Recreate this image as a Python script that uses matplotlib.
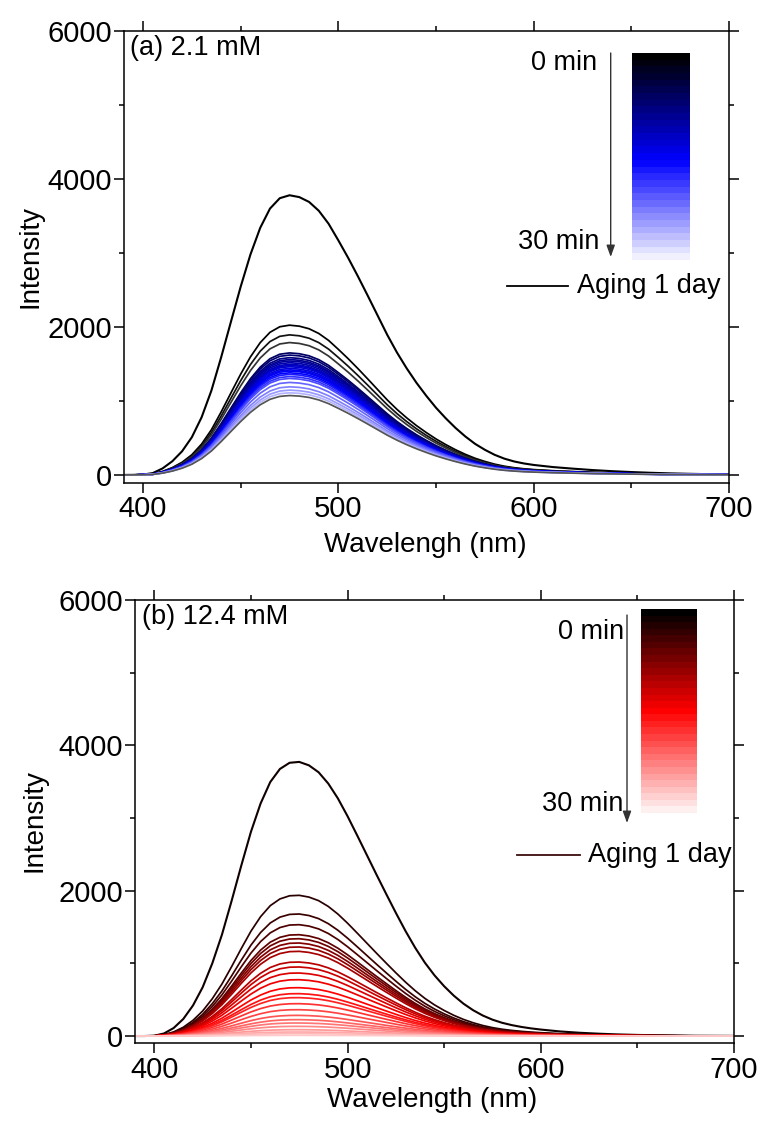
import numpy as np
import matplotlib
matplotlib.use("Agg")
import matplotlib.pyplot as plt
from matplotlib.colors import LinearSegmentedColormap
from matplotlib.lines import Line2D
from matplotlib.patches import FancyArrowPatch
from matplotlib.ticker import MultipleLocator

plt.rcParams['font.family'] = ['Liberation Sans', 'DejaVu Sans']

W, H = 760, 1121
TXT = 19.5

# wavelength grid the spectra were read on (nm)
wl = [390, 395, 400, 405, 410, 415, 420, 425, 430, 435, 440, 445, 450, 455,
      460, 465, 470, 475, 480, 485, 490, 495, 500, 505, 510, 515, 520, 525,
      530, 535, 540, 545, 550, 555, 560, 565, 570, 575, 580, 585, 590, 595,
      600, 610, 620, 630, 640, 650, 660, 670, 680, 690, 700]

# "Aging 1 day" spectra
aged_a = [0, 1, 5, 25, 88, 185, 320, 510, 780, 1140, 1590, 2070, 2545, 2980,
          3340, 3600, 3740, 3780, 3755, 3690, 3570, 3395, 3170, 2935, 2685, 2425,
          2160, 1895, 1655, 1440, 1245, 1070, 908, 765, 635, 520, 420, 340, 272,
          220, 182, 155, 135, 106, 85, 66, 51, 39, 29, 21, 15, 10, 7]
aged_b = [0, 0, 5, 35, 110, 235, 420, 670, 1000, 1395, 1860, 2345, 2810, 3200,
          3495, 3675, 3760, 3772, 3725, 3630, 3475, 3270, 3025, 2760, 2490, 2220,
          1955, 1695, 1445, 1215, 1010, 835, 685, 555, 445, 355, 282, 225, 182,
          150, 125, 105, 89, 63, 45, 32, 22, 15, 10, 7, 4, 3, 2]

# peak intensity of each 0-30 min spectrum
peaks_a = [2024, 1893, 1789, 1649, 1620, 1585, 1560, 1540, 1517, 1495, 1480,
           1463, 1440, 1420, 1404, 1380, 1359, 1330, 1304, 1250, 1191, 1146,
           1110, 1073]
colors_a = ['#000000', '#111111', '#333333', '#000060', '#000070', '#000080',
            '#00008f', '#00009f', '#0000aa', '#0000b8', '#0000c4', '#0000d0',
            '#0000dc', '#0000e8', '#0000f4', '#0000ff', '#1a1aff', '#3333ff',
            '#4d4dff', '#6666ff', '#8080ff', '#9999ff', '#b3b3ff', '#555555']

peaks_b = [1936, 1679, 1532, 1394, 1339, 1280, 1225, 1165, 1018, 950, 867,
           775, 665, 583, 528, 445, 362, 284, 225, 179, 133, 87, 55, 32, 9]

cmap_a = LinearSegmentedColormap.from_list('a', [(0, '#000000'), (0.52, '#0000ff'), (1, '#f0f0ff')])
cmap_b = LinearSegmentedColormap.from_list('b', [(0, '#000000'), (0.5, '#ff0000'), (1, '#fff0f0')])


def fx(x):
    return x / W


def fy(y):
    return 1 - y / H


def style(ax, ybottom):
    ax.set_xlim(390, 700)
    ax.set_ylim(ybottom, 6000)
    ax.xaxis.set_major_locator(MultipleLocator(100))
    ax.xaxis.set_minor_locator(MultipleLocator(50))
    ax.yaxis.set_major_locator(MultipleLocator(2000))
    ax.yaxis.set_minor_locator(MultipleLocator(1000))
    ax.tick_params(which='both', direction='out', top=True, right=True,
                   labeltop=False, labelright=False, width=1.1, labelsize=21)
    ax.tick_params(axis='y', which='major', length=7, pad=1.5)
    ax.tick_params(axis='x', which='major', length=7, pad=2)
    ax.tick_params(which='minor', length=3.5)
    for s in ax.spines.values():
        s.set_linewidth(1.1)


def place_labels(ax, xlab, xpos, ypos):
    ax.set_xlabel(xlab, fontsize=20)
    ax.set_ylabel("Intensity", fontsize=20)
    ax.xaxis.set_label_coords(*xpos)
    ax.xaxis.label.set_va('center')
    ax.yaxis.set_label_coords(*ypos)
    ax.yaxis.label.set_va('center')


fig = plt.figure(figsize=(W / 100, H / 100), dpi=100)
wl_arr = np.array(wl)

# ---- (a) 2.1 mM
ax1 = fig.add_axes([fx(123.5), fy(482.7), fx(729 - 123.5), (482.7 - 31) / H])
ref_a = np.array(aged_a, dtype=float)
ax1.plot(wl_arr, ref_a, color='black', lw=1.5)
for p, c in zip(peaks_a, colors_a):
    ax1.plot(wl_arr, ref_a * p / ref_a.max(), color=c, lw=1.25)
style(ax1, -105)
place_labels(ax1, "Wavelengh (nm)", (0.498, -0.138), (-0.154, 0.5))

# ---- (b) 12.4 mM
ax2 = fig.add_axes([fx(135), fy(1043), fx(734 - 135), (1043 - 600) / H])
ref_b = np.array(aged_b, dtype=float)
ax2.plot(wl_arr, ref_b, color='#100000', lw=1.5)
nb = len(peaks_b)
for i, p in enumerate(peaks_b):
    c = cmap_b(0.08 + i * (0.92 - 0.08) / (nb - 1))
    ax2.plot(wl_arr, ref_b * p / ref_b.max(), color=c, lw=1.25)
style(ax2, -96)
place_labels(ax2, "Wavelength (nm)", (0.496, -0.129), (-0.167, 0.503))

# panel labels
fig.text(fx(130), fy(48), "(a) 2.1 mM", fontsize=TXT, va='center', ha='left')
fig.text(fx(142), fy(617), "(b) 12.4 mM", fontsize=TXT, va='center', ha='left')

# colour bars showing the 0-30 min sequence
nbands = 31
bands = np.arange(nbands)[:, None]
cb1 = fig.add_axes([fx(631.7), fy(260), fx(689 - 631.7), (260 - 53.3) / H])
cb1.imshow(bands, cmap=cmap_a, aspect='auto', interpolation='nearest')
cb1.axis('off')
cb2 = fig.add_axes([fx(641), fy(813), fx(697 - 641), (813 - 609) / H])
cb2.imshow(bands, cmap=cmap_b, aspect='auto', interpolation='nearest')
cb2.axis('off')

# arrows and time labels
arrow = dict(arrowstyle='-|>,head_length=0.5,head_width=0.18', color='#333333',
             lw=1.0, mutation_scale=14, shrinkA=0, shrinkB=0)
fig.add_artist(FancyArrowPatch((fx(610.7), fy(53)), (fx(610.7), fy(257)),
                               transform=fig.transFigure, **arrow))
fig.add_artist(FancyArrowPatch((fx(627), fy(615)), (fx(627), fy(823)),
                               transform=fig.transFigure, **arrow))
fig.text(fx(597), fy(63), "0 min", fontsize=TXT, ha='right', va='center')
fig.text(fx(599), fy(242), "30 min", fontsize=TXT, ha='right', va='center')
fig.text(fx(624), fy(632), "0 min", fontsize=TXT, ha='right', va='center')
fig.text(fx(623), fy(804), "30 min", fontsize=TXT, ha='right', va='center')

# "Aging 1 day" legend entries
fig.add_artist(Line2D([fx(506.7), fx(567.7)], [fy(286), fy(286)],
                      transform=fig.transFigure, color='black', lw=1.3))
fig.text(fx(577), fy(286), "Aging 1 day", fontsize=TXT, ha='left', va='center')
fig.add_artist(Line2D([fx(517), fx(580)], [fy(855), fy(855)],
                      transform=fig.transFigure, color='#3b0d0d', lw=1.3))
fig.text(fx(588), fy(855), "Aging 1 day", fontsize=TXT, ha='left', va='center')

fig.savefig("out.png", dpi=100)
